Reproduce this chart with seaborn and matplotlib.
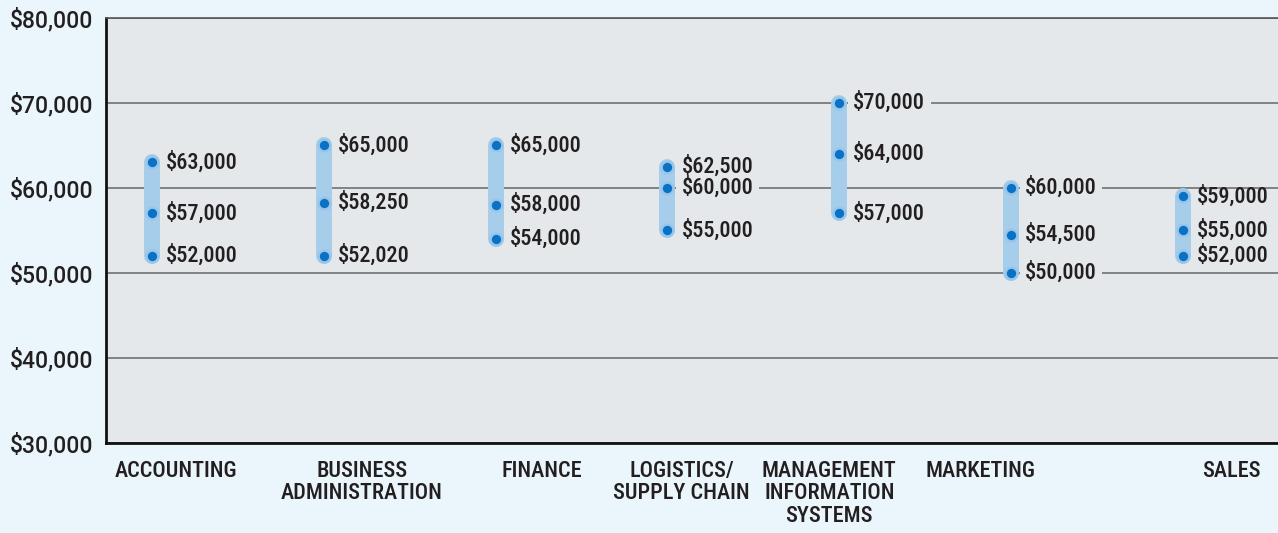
import matplotlib
matplotlib.use("Agg")
import numpy as np
import pandas as pd
import seaborn as sns
import matplotlib.pyplot as plt
from matplotlib.transforms import ScaledTranslation

# salary ranges by major (low / median / high)
majors = ["ACCOUNTING", "BUSINESS\nADMINISTRATION", "FINANCE", "LOGISTICS/\nSUPPLY CHAIN",
          "MANAGEMENT\nINFORMATION\nSYSTEMS", "MARKETING", "SALES"]
low = [52000, 52020, 54000, 55000, 57000, 50000, 52000]
mid = [57000, 58250, 58000, 60000, 64000, 54500, 55000]
high = [63000, 65000, 65000, 62500, 70000, 60000, 59000]
yticks = [30000, 40000, 50000, 60000, 70000, 80000]

# the category names sit a bit off their columns in the original layout (pixels)
label_shift = [24, 38, 46, 14, -10, -31, 48]

df = pd.DataFrame({"major": majors * 3, "salary": low + mid + high})
df["pos"] = pd.Categorical(df["major"], categories=majors).codes

fig_bg = "#EAF6FC"
ax_bg = "#E4E8EA"
ink = "#231F20"
narrow = ["Roboto Condensed", "DejaVu Sans"]

sns.set_theme(style="white")
plt.rcParams["font.family"] = ["Roboto", "DejaVu Sans"]

fig = plt.figure(figsize=(12.78, 5.33), dpi=100, facecolor=fig_bg)
ax = fig.add_axes([0.0829, 0.1689, 0.9171, 0.7974], facecolor=ax_bg)

pos = np.arange(len(majors))
bars = ax.vlines(pos, low, high, color="#A6CEEB", lw=11.5, zorder=2)
bars.set_capstyle("round")

sns.scatterplot(data=df, x="pos", y="salary", s=105, color="#98C6EB", linewidth=0, ax=ax, zorder=3)
sns.scatterplot(data=df, x="pos", y="salary", s=45, color="#0A72C4", linewidth=0, ax=ax, zorder=4)

for x, v in zip(df["pos"], df["salary"]):
    on_grid = v % 10000 == 0
    ax.annotate(f"${v:,}", xy=(x, v), xytext=(14, 0), textcoords="offset pixels",
                ha="left", va="center", fontsize=16, family=narrow, fontweight=500, color=ink,
                zorder=5 if on_grid else 6,
                bbox=dict(boxstyle="square,pad=0.25", fc=ax_bg, ec="none") if on_grid else None)

ax.set_xlim(-0.268, 6.553)
ax.set_ylim(30000, 80000)
ax.set_xticks(pos, majors, fontsize=16, family=narrow, fontweight=500, color=ink,
              linespacing=1.05, va="top", ha="center", multialignment="center")
ax.set_yticks(yticks, [f"${v:,}" for v in yticks], fontsize=16.5, color=ink, fontweight="medium")
ax.tick_params(axis="x", length=0, pad=12)
ax.tick_params(axis="y", length=0, pad=9)
ax.set_xlabel("")
ax.set_ylabel("")

for lab, dx in zip(ax.get_xticklabels(), label_shift):
    lab.set_transform(lab.get_transform() + ScaledTranslation(dx / 100, 0, fig.dpi_scale_trans))

ax.yaxis.grid(True, color="#707070", lw=1.2)
ax.set_axisbelow(True)

ax.spines["left"].set_color("#111111")
ax.spines["left"].set_linewidth(2)
ax.spines["bottom"].set_color("#111111")
ax.spines["bottom"].set_linewidth(2)
ax.spines["top"].set_color("#555555")
ax.spines["top"].set_linewidth(1.2)
ax.spines["right"].set_visible(False)

fig.savefig("out.png", dpi=100, facecolor=fig_bg)
